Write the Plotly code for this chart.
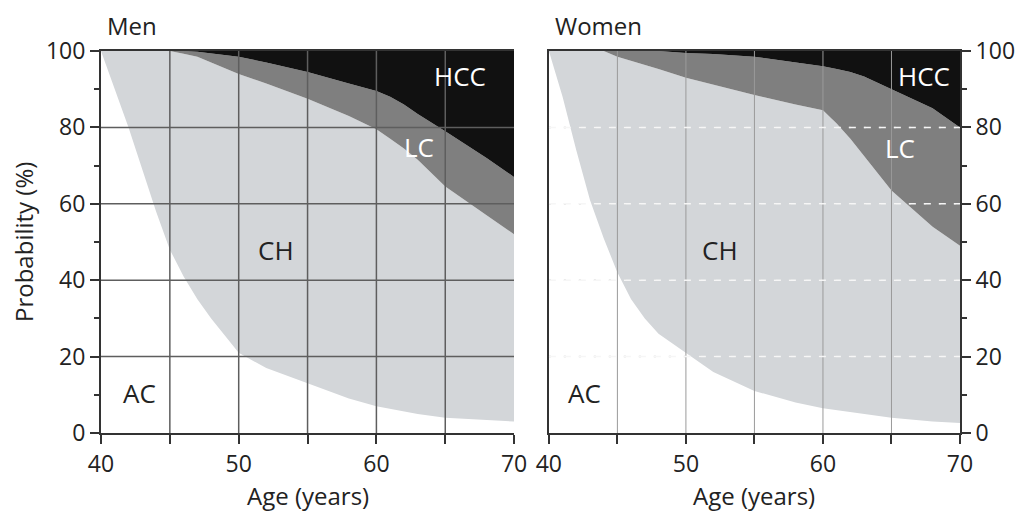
import plotly.graph_objects as go

# ---------------- data (probability of each state, %) ----------------
ages = [40, 41, 42, 43, 44, 45, 46, 47, 48, 50, 52, 55, 58, 60, 61, 62, 63, 65, 68, 70]

men_ac  = [100, 90, 80, 69, 58, 48, 41, 35, 30, 21, 17, 13, 9, 7, 6.3, 5.5, 5, 4, 3.3, 3]
men_ch  = [0, 10, 20, 31, 42, 52, 58.3, 63.5, 67, 73, 74.5, 74.5, 74, 72.5, 70.7, 69, 66.5, 60.5, 53.7, 49]
men_lc  = [0, 0, 0, 0, 0, 0, 0.7, 1.3, 2.4, 4.5, 5.5, 7, 8.5, 10, 11, 11.5, 12, 14.5, 15, 15]
men_hcc = [0, 0, 0, 0, 0, 0, 0, 0.2, 0.6, 1.5, 3, 5.5, 8.5, 10.5, 12, 14, 16.5, 21, 28, 33]

women_ac  = [100, 88, 74, 61, 51, 42, 35, 30, 26, 21, 16, 11, 8, 6.5, 6, 5.5, 5, 4, 3, 2.6]
women_ch  = [0, 12, 26, 39, 49, 56.5, 62.5, 66.5, 69.3, 72, 75.2, 77.5, 78, 78, 75, 71.5, 67.5, 59.5, 51, 46.4]
women_lc  = [0, 0, 0, 0, 0, 1.5, 2.5, 3.5, 4.7, 6.5, 8, 10, 11, 11.5, 14.3, 17.5, 20.8, 26.5, 31, 31]
women_hcc = [0, 0, 0, 0, 0, 0, 0, 0, 0, 0.5, 0.8, 1.5, 3, 4, 4.7, 5.5, 6.7, 10, 15, 20]

states = ["AC", "CH", "LC", "HCC"]
state_colors = {"AC": "#ffffff", "CH": "#d3d6d9", "LC": "#7f7f7f", "HCC": "#111111"}

panels = ["Men", "Women"]
x_ticks = [40, 45, 50, 55, 60, 65, 70]
x_ticktext = ["40", "", "50", "", "60", "", "70"]
y_ticks = [0, 20, 40, 60, 80, 100]

FONT = "Open Sans"

fig = go.Figure()

series = {
    "Men": [men_ac, men_ch, men_lc, men_hcc],
    "Women": [women_ac, women_ch, women_lc, women_hcc],
}

for i, panel in enumerate(panels):
    xa = "x" if i == 0 else "x2"
    ya = "y" if i == 0 else "y2"
    for s, vals in zip(states, series[panel]):
        fig.add_trace(go.Scatter(
            x=ages, y=vals, xaxis=xa, yaxis=ya,
            stackgroup=panel, mode="lines",
            line=dict(width=0, color=state_colors[s]),
            fillcolor=state_colors[s], name=s, showlegend=False,
            hoverinfo="skip",
        ))

# grid lines drawn above the areas
shapes = []
for xv in x_ticks[1:-1]:
    shapes.append(dict(type="line", xref="x", yref="y", x0=xv, x1=xv, y0=0, y1=100,
                       line=dict(color="#5e5e5e", width=1.5), layer="above"))
    shapes.append(dict(type="line", xref="x2", yref="y2", x0=xv, x1=xv, y0=0, y1=100,
                       line=dict(color="#9a9a9a", width=1), layer="above"))
for yv in y_ticks[1:-1]:
    shapes.append(dict(type="line", xref="x", yref="y", x0=40, x1=70, y0=yv, y1=yv,
                       line=dict(color="#5e5e5e", width=1.5), layer="above"))
    shapes.append(dict(type="line", xref="x2", yref="y2", x0=40, x1=70, y0=yv, y1=yv,
                       line=dict(color="#c4c4c4", width=1.5, dash="2px,13px"), layer="above"))
    shapes.append(dict(type="line", xref="x2", yref="y2", x0=40, x1=70, y0=yv, y1=yv,
                       line=dict(color="#f6f6f6", width=1.5, dash="7px,8px"), layer="above"))

# labels inside plots
labels = [
    ("x", "y", 66.1, 93.5, "HCC", "#ffffff"),
    ("x", "y", 63.1, 75.0, "LC", "#ffffff"),
    ("x", "y", 52.7, 48.0, "CH", "#222222"),
    ("x", "y", 42.8, 10.5, "AC", "#222222"),
    ("x2", "y2", 67.4, 93.5, "HCC", "#ffffff"),
    ("x2", "y2", 65.6, 74.6, "LC", "#ffffff"),
    ("x2", "y2", 52.5, 48.0, "CH", "#222222"),
    ("x2", "y2", 42.6, 10.5, "AC", "#222222"),
]
annotations = []
for xr, yr, xv, yv, t, c in labels:
    annotations.append(dict(xref=xr, yref=yr, x=xv, y=yv, text=t, showarrow=False,
                            font=dict(family=FONT, size=26, color=c)))

for i, panel in enumerate(panels):
    xd = "x domain" if i == 0 else "x2 domain"
    annotations.append(dict(xref=xd, yref="paper", x=0, y=1, xanchor="left", yanchor="bottom",
                            yshift=7, xshift=4, text=panel, showarrow=False,
                            font=dict(family=FONT, size=24, color="#222222")))
    annotations.append(dict(xref=xd, yref="paper", x=0.5, y=0, xanchor="center", yanchor="middle",
                            yshift=-62, text="Age (years)", showarrow=False,
                            font=dict(family=FONT, size=24, color="#222222")))

annotations.append(dict(xref="paper", yref="paper", x=0, y=0.5, xshift=-78, textangle=-90,
                        xanchor="center", yanchor="middle", text="Probability (%)", showarrow=False,
                        font=dict(family=FONT, size=24, color="#222222")))

axis_font = dict(family=FONT, size=23, color="#222222")
common_x = dict(range=[40, 70], tickvals=x_ticks, ticktext=x_ticktext, ticks="outside",
                ticklen=9, tickwidth=1.5, tickcolor="#333333", showline=True, linecolor="#333333",
                linewidth=2, mirror=True, showgrid=False, zeroline=False, tickfont=axis_font,
                fixedrange=True)
common_y = dict(range=[0, 100], tickvals=y_ticks, ticks="outside", ticklen=9, tickwidth=1.5,
                tickcolor="#333333", showline=True, linecolor="#333333", linewidth=2,
                showgrid=False, zeroline=False, tickfont=axis_font,
                minor=dict(dtick=10, tick0=0, ticks="outside", ticklen=5, tickwidth=1.5,
                           tickcolor="#333333", showgrid=False))

# page body has an 8px margin: figure is sized/positioned to compensate
fig.update_layout(
    width=1019, height=506,
    margin=dict(l=93, r=61, t=43, b=81),
    paper_bgcolor="white", plot_bgcolor="white",
    xaxis=dict(domain=[0, 416 / 865], anchor="y", **common_x),
    xaxis2=dict(domain=[451 / 865, 1], anchor="y2", **common_x),
    yaxis=dict(anchor="x", mirror=False, **common_y),
    yaxis2=dict(anchor="x2", side="right", mirror=True, **common_y),
    shapes=shapes,
    annotations=annotations,
    showlegend=False,
)

fig.write_html("out.html")
